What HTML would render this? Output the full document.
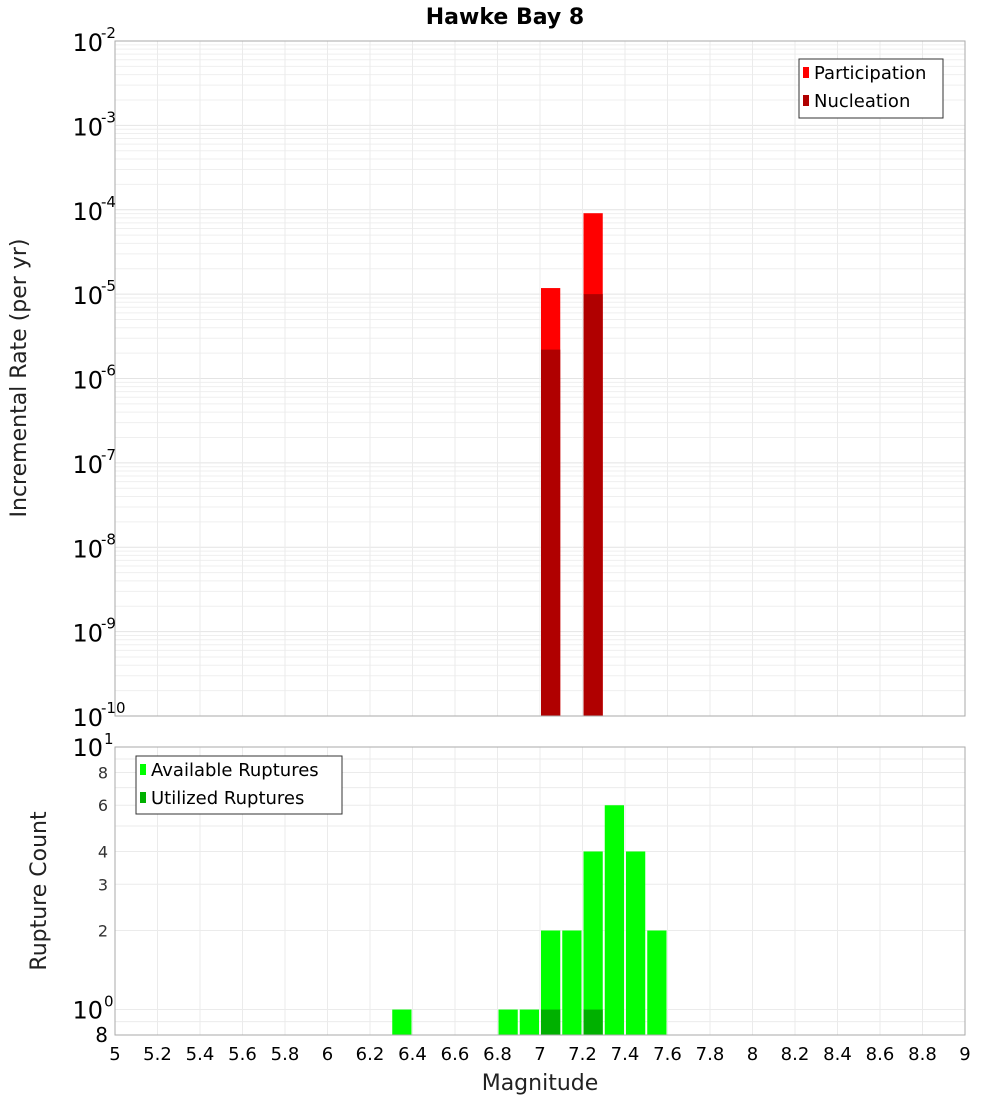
<!DOCTYPE html>
<html><head><meta charset="utf-8"><style>
body{margin:0;background:#fff;font-family:"DejaVu Sans","Liberation Sans",sans-serif}
</style></head><body>
<svg id="c" width="1000" height="1100" xmlns="http://www.w3.org/2000/svg" style="font-family:'DejaVu Sans','Liberation Sans',sans-serif">
<text x="505" y="24" text-anchor="middle" font-size="22" font-weight="bold">Hawke Bay 8</text>
<g id="topg"></g><g id="botg"></g>
<text transform="translate(26,378) rotate(-90)" text-anchor="middle" font-size="22" fill="#222">Incremental Rate (per yr)</text>
<text transform="translate(46,891) rotate(-90)" text-anchor="middle" font-size="22" fill="#222">Rupture Count</text>
<text x="540" y="1090" text-anchor="middle" font-size="22" fill="#222">Magnitude</text>
</svg>
<script>
const magBins=[7.05,7.25];
const participation=[1.18e-5,9.1e-5];
const nucleation=[2.2e-6,1.0e-5];
const countBins=[6.35,6.85,6.95,7.05,7.15,7.25,7.35,7.45,7.55];
const available=[1,1,1,2,2,4,6,4,2];
const utilBins=[7.05,7.25];
const utilized=[1,1];
const xTicks=["5","5.2","5.4","5.6","5.8","6","6.2","6.4","6.6","6.8","7","7.2","7.4","7.6","7.8","8","8.2","8.4","8.6","8.8","9"];
const topExps=[-2,-3,-4,-5,-6,-7,-8,-9,-10];
const botTicks=[["10","1",10],["8","",8],["6","",6],["4","",4],["3","",3],["2","",2],["10","0",1],["8","",0.8]];
const NS="http://www.w3.org/2000/svg";
const L=115,R=965,T1=41,B1=716,T2=747,B2=1035;
const xs=m=>L+(m-5)/4*(R-L);
const y1=v=>T1+(-2-Math.log10(v))/8*(B1-T1);
const lo=Math.log10(0.8);
const y2=v=>B2-(Math.log10(v)-lo)/(1-lo)*(B2-T2);
function el(p,t,a){const e=document.createElementNS(NS,t);for(const k in a)e.setAttribute(k,a[k]);p.appendChild(e);return e;}
const topG=document.getElementById('topg'),botG=document.getElementById('botg');
for(let e=-10;e<-2;e++)for(let k=1;k<10;k++){const yy=y1(k*Math.pow(10,e));const g=el(topG,'line',{x1:L,x2:R,y1:yy,y2:yy,stroke:k==1?'#e4e4e4':'#efefef','stroke-width':1});

}
for(let i=1;i<20;i++){const xx=xs(5+i*0.2);for(const [p,a,b] of [[topG,T1,B1],[botG,T2,B2]]){const g=el(p,'line',{x1:xx,x2:xx,y1:a,y2:b,stroke:'#ebebeb'});

}}
[10,9,8,7,6,5,4,3,2,1,0.9].forEach(v=>{const yy=y2(v);const g=el(botG,'line',{x1:L,x2:R,y1:yy,y2:yy,stroke:'#ebebeb'});

});
const bw=xs(5.1)-L-2;
magBins.forEach((m,i)=>{
 let r=el(topG,'rect',{x:xs(m-0.05)+1,y:y1(participation[i]),width:bw,height:B1-y1(participation[i]),fill:'#ff0000'});
 
 
 r=el(topG,'rect',{x:xs(m-0.05)+1,y:y1(nucleation[i]),width:bw,height:B1-y1(nucleation[i]),fill:'#b00000'});
 
 
});
countBins.forEach((m,i)=>{const r=el(botG,'rect',{x:xs(m-0.05)+1,y:y2(available[i]),width:bw,height:B2-y2(available[i]),fill:'#00ff00'});
 
 });
utilBins.forEach((m,i)=>{const r=el(botG,'rect',{x:xs(m-0.05)+1,y:y2(utilized[i]),width:bw,height:B2-y2(utilized[i]),fill:'#00b000'});
 
 });
for(const [p,a,b] of [[topG,T1,B1],[botG,T2,B2]]){const f=el(p,'rect',{x:L,y:a,width:R-L,height:b-a,fill:'none',stroke:'#aaa'});

}
topExps.forEach(e=>{const yy=y1(Math.pow(10,e));const t=el(topG,'text',{x:103,y:yy+10,'text-anchor':'end','font-size':24});t.textContent='10';
 
 
 const s=el(topG,'text',{x:101,y:yy-3,'font-size':15});s.textContent=String(e);
 
 });
botTicks.forEach(([b,ex,v])=>{const yy=y2(v);const big=ex!=='';const t=el(botG,'text',{x:big?103:108,y:yy+(big?9:6),'text-anchor':'end','font-size':big?24:16,fill:big?'#000':'#333'});t.textContent=b;
 if(v===0.8){t.setAttribute('font-size',20);t.setAttribute('fill','#000');t.setAttribute('y',yy+7);}
 
 
 if(big){const s=el(botG,'text',{x:104,y:yy-3,'font-size':15});s.textContent=ex;
 
 }});
xTicks.forEach(l=>{const t=el(botG,'text',{x:xs(parseFloat(l)),y:1060,'text-anchor':'middle','font-size':18});t.textContent=l;

});
function legend(p,x0,y0,w,h,items,name){const g=el(p,'g',{});
 
 
 el(g,'rect',{x:x0,y:y0,width:w,height:h,fill:'#fff',stroke:'#333'});
 items.forEach(([c,l],i)=>{el(g,'rect',{x:x0+4,y:y0+8+i*28,width:6,height:11,fill:c});const t=el(g,'text',{x:x0+15,y:y0+20+i*28,'font-size':18});t.textContent=l;
 
 });}
legend(topG,799,59,144,59,[['#ff0000','Participation'],['#b00000','Nucleation']],'top-legend');
legend(botG,136,756,206,58,[['#00ff00','Available Ruptures'],['#00b000','Utilized Ruptures']],'bottom-legend');
</script>
</body></html>
